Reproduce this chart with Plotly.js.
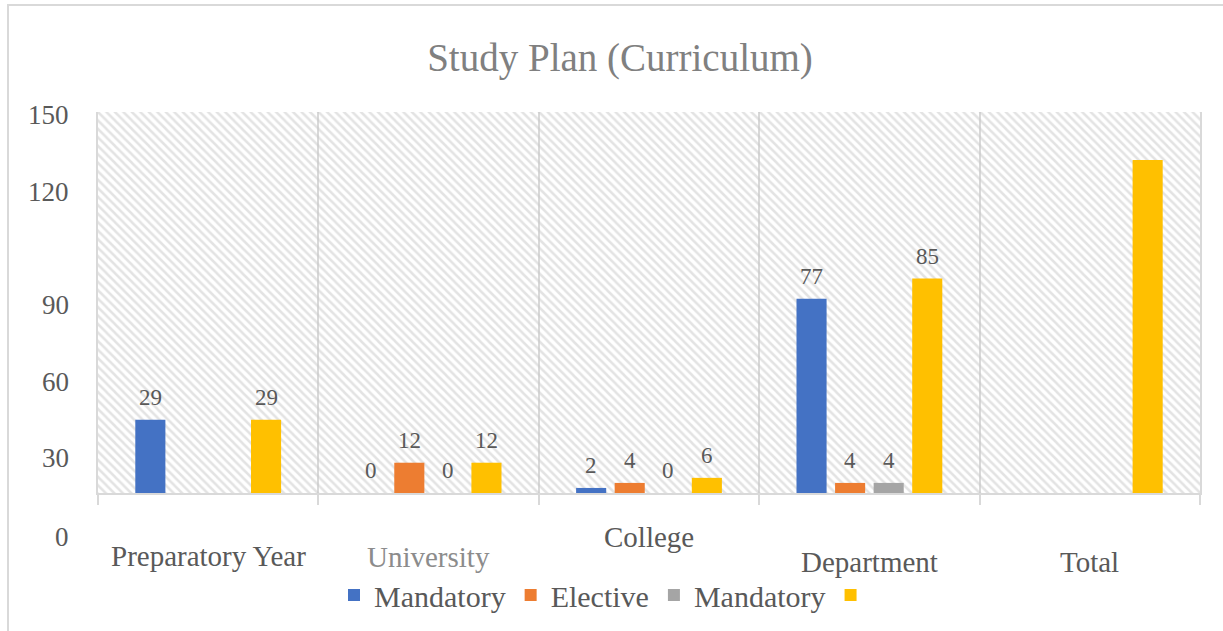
<!DOCTYPE html>
<html>
<head>
<meta charset="utf-8">
<script src="https://cdn.plot.ly/plotly-3.0.1.min.js"></script>
<style>html,body{margin:0;padding:0;background:#fff;}#chart{width:1223px;height:631px;}</style>
</head>
<body>
<div id="chart"></div>
<script>
// ---- data ----
const categories = ["Preparatory Year", "University", "College", "Department", "Total"];
const seriesNames = ["Mandatory", "Elective", "Mandatory", ""];
const mandatoryA = [29, 0, 2, 77, null];
const elective = [null, 12, 4, 4, null];
const mandatoryB = [null, 0, 0, 4, null];
const totals = [29, 12, 6, 85, 132];
const labelsMandatoryA = [29, 0, 2, 77, null];
const labelsElective = [null, 12, 4, 4, null];
const labelsMandatoryB = [null, 0, 0, 4, null];
const labelsTotals = [29, 12, 6, 85, null];
const yTickLabels = ["150", "120", "90", "60", "30", "0"];

// ---- layout constants ----
const W = 1223, H = 631;
const M = {l: 98, r: 23, t: 112, b: 138, autoexpand: false};
const plotW = W - M.l - M.r, plotH = H - M.t - M.b;
const yMax = 151;
const FONT = "Liberation Serif, Times New Roman, serif";
const colors = ["#4472C4", "#ED7D31", "#A5A5A5", "#FFC000"];
const bargap = 0.3, bargroupgap = 0.22;
const pyToPaper = p => (H - M.b - p) / plotH;
const pxToPaper = p => (p - M.l) / plotW;
// pixel positions of the (oddly placed) y tick labels and category labels in the reference
const yTickPix = [115, 192, 305, 382, 458, 537];
const catLabelPix = [556, 557, 537, 562, 562];
const catLabelColors = ["#595959", "#8c8c8c", "#595959", "#595959", "#595959"];

const series = [mandatoryA, elective, mandatoryB, totals];
const seriesLabels = [labelsMandatoryA, labelsElective, labelsMandatoryB, labelsTotals];

const traces = [{
  type: "bar", x: [0.5], y: [yMax], width: [1], xaxis: "x", yaxis: "y",
  showlegend: false, hoverinfo: "skip",
  marker: {color: "rgba(0,0,0,0)", line: {width: 0},
    pattern: {shape: "\\", fgcolor: "#c8c8c8", size: 6, solidity: 0.42, fillmode: "overlay"}}
}];
series.forEach((vals, i) => {
  traces.push({
    type: "bar", name: seriesNames[i] === "" ? " " : seriesNames[i],
    x: categories, y: vals, xaxis: "x2", yaxis: "y2",
    marker: {color: colors[i], line: {width: 0}}, hoverinfo: "x+y"
  });
});

const annotations = [];
const n = series.length;
const groupW = 1 - bargap, slot = groupW / n;
seriesLabels.forEach((labs, i) => {
  const off = -groupW / 2 + slot * (i + 0.5);
  labs.forEach((v, c) => {
    if (v === null) return;
    annotations.push({
      xref: "x2", yref: "y2", x: c + off, y: series[i][c] || 0,
      text: String(v), showarrow: false, xanchor: "center", yanchor: "bottom", yshift: 8,
      font: {family: FONT, size: 23, color: "#595959"}
    });
  });
});
yTickLabels.forEach((t, i) => {
  annotations.push({
    xref: "paper", yref: "paper", x: pxToPaper(71), y: pyToPaper(yTickPix[i]),
    text: t, showarrow: false, xanchor: "right", yanchor: "middle",
    font: {family: FONT, size: 27, color: "#595959"}
  });
});
categories.forEach((c, i) => {
  annotations.push({
    xref: "x2", yref: "paper", x: i, y: pyToPaper(catLabelPix[i]),
    text: c, showarrow: false, xanchor: "center", yanchor: "middle",
    font: {family: FONT, size: 29, color: catLabelColors[i]}
  });
});

const layout = {
  width: W, height: H, autosize: false,
  margin: M,
  paper_bgcolor: "#ffffff", plot_bgcolor: "#ffffff",
  font: {family: FONT, color: "#595959"},
  title: {text: "Study Plan (Curriculum)", font: {family: FONT, size: 39, color: "#808080"},
    x: 620 / W, xref: "container", xanchor: "center", y: 1 - 57 / H, yref: "container", yanchor: "middle"},
  barmode: "group", bargap: bargap, bargroupgap: bargroupgap,
  xaxis: {type: "linear", range: [0, 1], visible: false, fixedrange: true},
  yaxis: {range: [0, yMax], visible: false, fixedrange: true},
  xaxis2: {type: "category", overlaying: "x", anchor: "y2", range: [-0.5, 4.5],
    tickson: "boundaries", showgrid: true, gridcolor: "#d9d9d9", gridwidth: 2,
    ticks: "outside", ticklen: 10, tickcolor: "#d9d9d9", tickwidth: 2,
    showline: true, linecolor: "#d9d9d9", linewidth: 2, showticklabels: false, fixedrange: true},
  yaxis2: {overlaying: "y", range: [0, yMax], showgrid: false, zeroline: false,
    showticklabels: false, showline: true, mirror: true, linecolor: "#d9d9d9", linewidth: 2, fixedrange: true},
  showlegend: true,
  legend: {orientation: "h", x: pxToPaper(334), xanchor: "left", y: pyToPaper(569), yanchor: "top",
    font: {family: FONT, size: 30, color: "#595959"}, bgcolor: "rgba(0,0,0,0)", traceorder: "normal"},
  annotations: annotations,
  shapes: [{type: "rect", xref: "paper", yref: "paper",
    x0: pxToPaper(8), x1: pxToPaper(1240), y0: pyToPaper(5), y1: pyToPaper(650),
    line: {color: "#d9d9d9", width: 2}, fillcolor: "rgba(0,0,0,0)", layer: "below"}]
};

Plotly.newPlot("chart", traces, layout, {displayModeBar: false, staticPlot: true});
</script>
</body>
</html>
